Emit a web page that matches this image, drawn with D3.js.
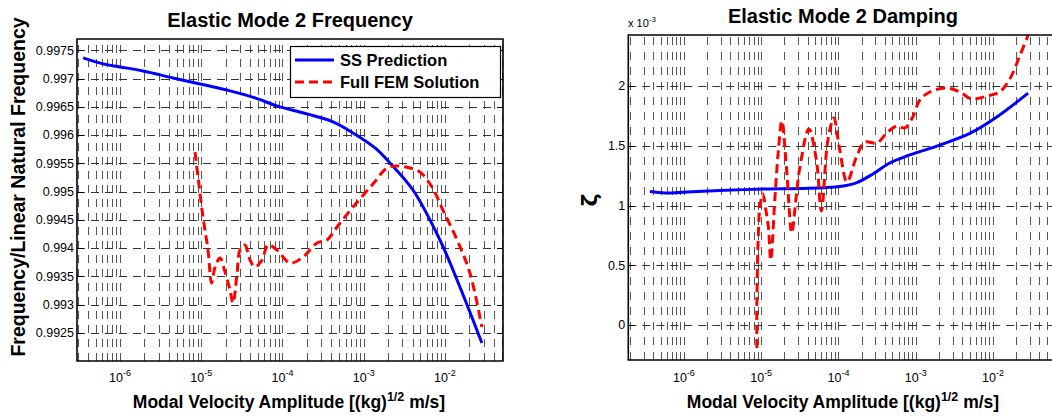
<!DOCTYPE html>
<html>
<head>
<meta charset="utf-8">
<script src="https://cdn.jsdelivr.net/npm/d3@7"></script>
<style>
body{margin:0;background:#fff}
svg text{font-family:"Liberation Sans",Arial,Helvetica,sans-serif}
</style>
</head>
<body>
<script>
// left panel: frequency / linear natural frequency
const ssFreqX=[3.51e-7,6.18e-7,1.0e-6,1.92e-6,4.49e-6,9.66e-6,2.26e-5,4.59e-5,8.55e-5,2.0e-4,4.19e-4,7.38e-4,1.38e-3,2.10e-3,4.04e-3,8.68e-3,1.53e-2,2.85e-2]
const ssFreqY=[0.997365,0.997259,0.997206,0.997135,0.997011,0.996905,0.996781,0.996657,0.996515,0.996374,0.996232,0.996037,0.995771,0.995506,0.995027,0.994142,0.993309,0.992318]
const femFreqX=[8.37e-6,9.12e-6,1.05e-5,1.21e-5,1.34e-5,1.48e-5,1.70e-5,1.96e-5,2.26e-5,2.46e-5,2.76e-5,3.0e-5,3.45e-5,3.98e-5,4.59e-5,5.6e-5,6.64e-5,8.55e-5,1.24e-4,1.79e-4,2.66e-4,3.53e-4,4.69e-4,7.38e-4,1.30e-3,1.93e-3,2.57e-3,3.71e-3,4.92e-3,6.92e-3,9.44e-3,1.41e-2,2.03e-2,2.85e-2]
const femFreqY=[0.995700,0.995258,0.994549,0.993965,0.993380,0.993664,0.993823,0.993575,0.993256,0.993026,0.993557,0.993965,0.994053,0.993788,0.993664,0.993788,0.994053,0.993965,0.993735,0.993841,0.994089,0.994142,0.994372,0.994726,0.995134,0.995417,0.995452,0.995417,0.995346,0.995081,0.994673,0.994142,0.993557,0.992601]
const freqTicks=[0.9925,0.993,0.9935,0.994,0.9945,0.995,0.9955,0.996,0.9965,0.997,0.9975]

// right panel: damping ratio (x 10^-3)
const ssDampX=[3.63e-7,5.67e-7,1.09e-6,2.92e-6,1.12e-5,3.17e-5,1.04e-4,1.73e-4,2.79e-4,4.62e-4,8.39e-4,2.05e-3,5.01e-3,1.12e-2,2.85e-2]
const ssDampY=[1.117,1.105,1.113,1.126,1.138,1.142,1.159,1.192,1.264,1.356,1.423,1.506,1.603,1.741,1.941]
const femDampX=[8.79e-6,8.8e-6,9.2e-6,9.62e-6,1.05e-5,1.15e-5,1.24e-5,1.33e-5,1.50e-5,1.67e-5,1.85e-5,2.12e-5,2.49e-5,2.81e-5,3.17e-5,4.14e-5,5.18e-5,6.01e-5,7.30e-5,8.71e-5,1.04e-4,1.29e-4,1.71e-4,2.20e-4,3.14e-4,4.23e-4,5.71e-4,7.23e-4,9.16e-4,1.13e-3,1.52e-3,2.52e-3,3.72e-3,5.32e-3,8.32e-3,1.22e-2,1.65e-2,2.22e-2,2.85e-2]
const femDampY=[-0.192,0.209,0.770,0.987,1.096,0.962,0.820,0.544,1.046,1.464,1.707,1.322,0.770,1.046,1.322,1.640,1.381,0.954,1.548,1.732,1.464,1.197,1.406,1.531,1.523,1.607,1.665,1.649,1.741,1.883,1.950,1.983,1.950,1.891,1.916,1.950,2.059,2.251,2.427]
const dampTicks=[0,0.5,1,1.5,2]

const decades=[-6,-5,-4,-3,-2]
const seriesNames=["SS Prediction","Full FEM Solution"]

const svg=d3.select("body").append("svg")
	.attr("width",1052)
	.attr("height",420)

function panel(o){
	const x=d3.scaleLog().domain(o.xDom).range(o.xRange)
	const y=d3.scaleLinear().domain(o.yDom).range(o.yRange)
	const g=svg.append("g")
	const x0=o.xRange[0],x1=o.xRange[1],y0=o.yRange[1],y1=o.yRange[0]

	// vertical grid at every log step (major and minor), dotted look
	let minors=[]
	for(let d=-7;d<=-1;d++){
		for(let k=1;k<=9;k++){
			const v=k*Math.pow(10,d)
			if(v>o.xDom[0]&&v<o.xDom[1]) minors.push(v)
		}
	}
	g.selectAll(".vg").data(minors).enter().append("line")
		.attr("x1",d=>Math.round(x(d))+0.5).attr("x2",d=>Math.round(x(d))+0.5)
		.attr("y1",y1).attr("y2",y0)
		.attr("stroke","#555").attr("stroke-width",1)
		.attr("stroke-dasharray",o.vDash)

	// horizontal grid at the major y ticks
	g.selectAll(".hg").data(o.yTicks).enter().append("line")
		.attr("x1",x0).attr("x2",x1)
		.attr("y1",d=>Math.round(y(d))+0.5).attr("y2",d=>Math.round(y(d))+0.5)
		.attr("stroke","#333").attr("stroke-width",1)
		.attr("stroke-dasharray","8,6")

	// y tick marks inside
	g.selectAll(".yt").data(o.yTicks).enter().append("line")
		.attr("x1",x0).attr("x2",x0+6)
		.attr("y1",d=>Math.round(y(d))+0.5).attr("y2",d=>Math.round(y(d))+0.5)
		.attr("stroke","#000")
	if(o.boxRight){
		g.selectAll(".yt2").data(o.yTicks).enter().append("line")
			.attr("x1",x1).attr("x2",x1-6)
			.attr("y1",d=>Math.round(y(d))+0.5).attr("y2",d=>Math.round(y(d))+0.5)
			.attr("stroke","#000")
	}

	// curves
	const line=d3.line().x(d=>x(d[0])).y(d=>y(d[1])).curve(d3.curveCatmullRom.alpha(0.5))
	g.append("path").datum(d3.zip(o.ssX,o.ssY))
		.attr("d",line).attr("fill","none")
		.attr("stroke","#0000ff").attr("stroke-width",3)
	g.append("path").datum(d3.zip(o.femX,o.femY))
		.attr("d",line).attr("fill","none")
		.attr("stroke","#ff0000").attr("stroke-width",3)
		.attr("stroke-dasharray","9,5")

	// box
	g.append("path")
		.attr("d",o.boxRight
			?"M"+x0+","+y0+"H"+x1+"V"+y1+"H"+x0+"Z"
			:"M"+(x1+5)+","+y0+"H"+x0+"V"+y1+"H"+(x1+5))
		.attr("fill","none").attr("stroke","#000").attr("stroke-width",1.6)

	// y tick labels
	g.selectAll(".yl").data(o.yTicks).enter().append("text")
		.attr("x",x0-3).attr("y",d=>y(d)).attr("dy","0.35em")
		.attr("text-anchor","end").attr("font-size",12.5)
		.text(o.fmt)

	// x tick labels 10^k
	const xl=g.selectAll(".xl").data(decades).enter().append("text")
		.attr("x",d=>x(Math.pow(10,d))).attr("y",382)
		.attr("text-anchor","middle").attr("font-size",12.5)
	xl.append("tspan").text("10")
	xl.append("tspan").attr("dy",-6).attr("font-size",9).text(d=>d)

	// x label
	const lab=g.append("text")
		.attr("x",o.labelX).attr("y",408)
		.attr("text-anchor","middle").attr("font-size",17.5).attr("font-weight","bold")
	lab.append("tspan").text("Modal Velocity Amplitude [(kg)")
	lab.append("tspan").attr("dy",-7).attr("font-size",12.5).text("1/2")
	lab.append("tspan").attr("dy",7).text(" m/s]")

	// title
	g.append("text")
		.attr("x",o.titleX).attr("y",o.titleY)
		.attr("text-anchor","middle").attr("font-size",20).attr("font-weight","bold")
		.text(o.title)
	return {x:x,y:y}
}

panel({
	xDom:[Math.pow(10,-6.53),Math.pow(10,-1.285)],xRange:[77,503],
	yDom:[0.992,0.9977],yRange:[361,39],
	yTicks:freqTicks,fmt:d=>d3.format("")(+d.toFixed(4)),
	ssX:ssFreqX,ssY:ssFreqY,femX:femFreqX,femY:femFreqY,
	vDash:"8,6",boxRight:true,
	title:"Elastic Mode 2 Frequency",titleX:290,titleY:27,labelX:289
})
panel({
	xDom:[Math.pow(10,-6.72),Math.pow(10,-1.21)],xRange:[628.3,1054],
	yDom:[-0.293,2.427],yRange:[360,35],
	yTicks:dampTicks,fmt:d=>d,
	ssX:ssDampX,ssY:ssDampY,femX:femDampX,femY:femDampY,
	vDash:"8,7",boxRight:false,
	title:"Elastic Mode 2 Damping",titleX:843,titleY:23,labelX:843
})

// y labels
svg.append("text")
	.attr("transform","translate(25,187) rotate(-90)")
	.attr("text-anchor","middle").attr("font-size",19.5).attr("font-weight","bold")
	.text("Frequency/Linear Natural Frequency")
svg.append("text")
	.attr("transform","translate(597,200) rotate(-90)")
	.attr("text-anchor","middle").attr("font-size",22).attr("font-weight","bold")
	.style("font-family","'DejaVu Sans',sans-serif")
	.text("ζ")

// exponent label
const ex=svg.append("text").attr("x",628).attr("y",27).attr("font-size",11)
ex.append("tspan").text("x 10")
ex.append("tspan").attr("dy",-5).attr("font-size",8).text("-3")

// legend
const leg=svg.append("g")
leg.append("rect").attr("x",290.5).attr("y",46.5).attr("width",210).attr("height",51)
	.attr("fill","#fff").attr("stroke","#000").attr("stroke-width",1.2)
leg.selectAll("line").data(seriesNames).enter().append("line")
	.attr("x1",295).attr("x2",334)
	.attr("y1",(d,i)=>60+i*22).attr("y2",(d,i)=>60+i*22)
	.attr("stroke",(d,i)=>i==0?"#0000ff":"#ff0000").attr("stroke-width",3)
	.attr("stroke-dasharray",(d,i)=>i==0?null:"9,5")
leg.selectAll("text").data(seriesNames).enter().append("text")
	.attr("x",340).attr("y",(d,i)=>60+i*22).attr("dy","0.36em")
	.attr("font-size",16.5).attr("font-weight","bold")
	.text(d=>d)
</script>
</body>
</html>
